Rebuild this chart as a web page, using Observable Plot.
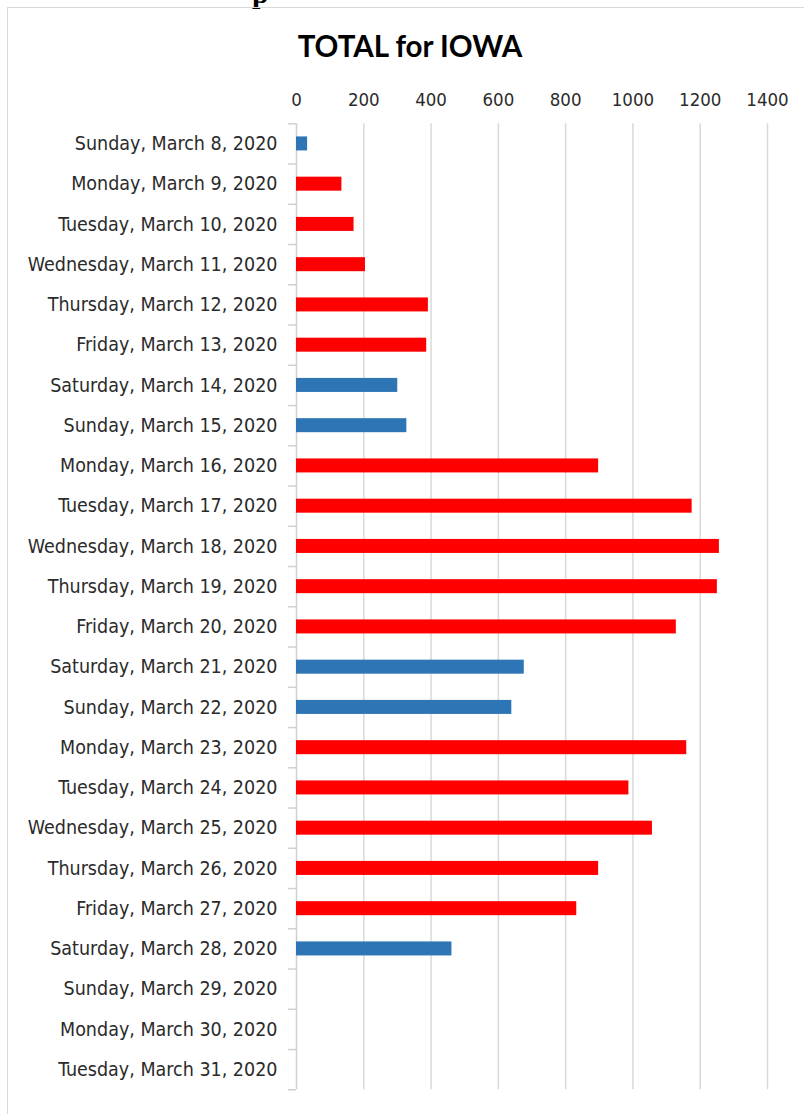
<!DOCTYPE html>
<html>
<head>
<meta charset="utf-8">
<script src="https://cdn.jsdelivr.net/npm/d3@7"></script>
<script src="https://cdn.jsdelivr.net/npm/@observablehq/plot@0.6"></script>
<style>
  html, body { margin: 0; padding: 0; background: #fff; width: 804px; height: 1114px; overflow: hidden; }
  #cut { position: absolute; left: 252px; top: -24px; font-family: "Liberation Serif", serif; font-weight: bold; font-size: 30px; color: #000; }
  #frame { position: absolute; left: 7px; top: 7px; width: 806px; height: 1200px; border: 1px solid #d9d9d9; box-sizing: border-box; }
  #title { position: absolute; left: 0; top: 28px; width: 820px; text-align: center; font-family: Lato, "Open Sans", sans-serif; font-weight: bold; font-size: 29.5px; color: #000; line-height: 36px; }
  #chart { position: absolute; left: 0; top: 80px; }
</style>
</head>
<body>
<div id="cut">p</div>
<div id="frame"></div>
<div id="title">TOTAL for IOWA</div>
<div id="chart"></div>
<script>
const days = [
  "Sunday, March 8, 2020",
  "Monday, March 9, 2020",
  "Tuesday, March 10, 2020",
  "Wednesday, March 11, 2020",
  "Thursday, March 12, 2020",
  "Friday, March 13, 2020",
  "Saturday, March 14, 2020",
  "Sunday, March 15, 2020",
  "Monday, March 16, 2020",
  "Tuesday, March 17, 2020",
  "Wednesday, March 18, 2020",
  "Thursday, March 19, 2020",
  "Friday, March 20, 2020",
  "Saturday, March 21, 2020",
  "Sunday, March 22, 2020",
  "Monday, March 23, 2020",
  "Tuesday, March 24, 2020",
  "Wednesday, March 25, 2020",
  "Thursday, March 26, 2020",
  "Friday, March 27, 2020",
  "Saturday, March 28, 2020",
  "Sunday, March 29, 2020",
  "Monday, March 30, 2020",
  "Tuesday, March 31, 2020"
];
const totals = [33, 135, 171, 205, 392, 387, 301, 328, 898, 1176, 1257, 1251, 1129, 677, 640, 1160, 988, 1058, 898, 833, 462, null, null, null];
const xTicks = [0, 200, 400, 600, 800, 1000, 1200, 1400];
const weekendColor = "#2e75b6";
const weekdayColor = "#ff0000";

const data = days.map((d, i) => ({
  i, day: d, value: totals[i],
  weekend: d.startsWith("Saturday") || d.startsWith("Sunday")
})).filter(d => d.value != null);

const half = 0.174;
const chart = Plot.plot({
  width: 804,
  height: 1034,
  marginLeft: 296,
  marginRight: 37,
  marginTop: 43.3,
  marginBottom: 24.7,
  style: { fontFamily: "'DejaVu Sans Condensed', 'Liberation Sans', sans-serif", fontSize: "19.5px", color: "#2b2b2b", background: "transparent", overflow: "visible" },
  x: { domain: [0, 1400] },
  y: { domain: [0, days.length], reverse: true },
  marks: [
    Plot.ruleX(xTicks.slice(1), { y1: 0, y2: days.length, stroke: "#d9d9d9", strokeWidth: 1.5 }),
    Plot.ruleX([0], { y1: 0, y2: days.length, stroke: "#d0d0d0", strokeWidth: 1.5 }),
    Plot.axisY(d3.range(days.length + 1), { tickSize: 8, tickFormat: () => "", stroke: "#d0d0d0", strokeWidth: 1.5, strokeOpacity: 1, label: null }),
    Plot.axisY(days.map((d, i) => i + 0.5), { tickSize: 0, tickPadding: 19, tickFormat: v => days[Math.floor(v)], label: null }),
    Plot.axisX(xTicks, { anchor: "top", tickSize: 0, tickPadding: 18, tickFormat: d => String(d), fontSize: "18.5px", label: null }),
    Plot.rectX(data, {
      x1: 0,
      x2: "value",
      y1: d => d.i + 0.5 - half,
      y2: d => d.i + 0.5 + half,
      fill: d => d.weekend ? weekendColor : weekdayColor
    })
  ]
});
document.getElementById("chart").appendChild(chart);
</script>
</body>
</html>
